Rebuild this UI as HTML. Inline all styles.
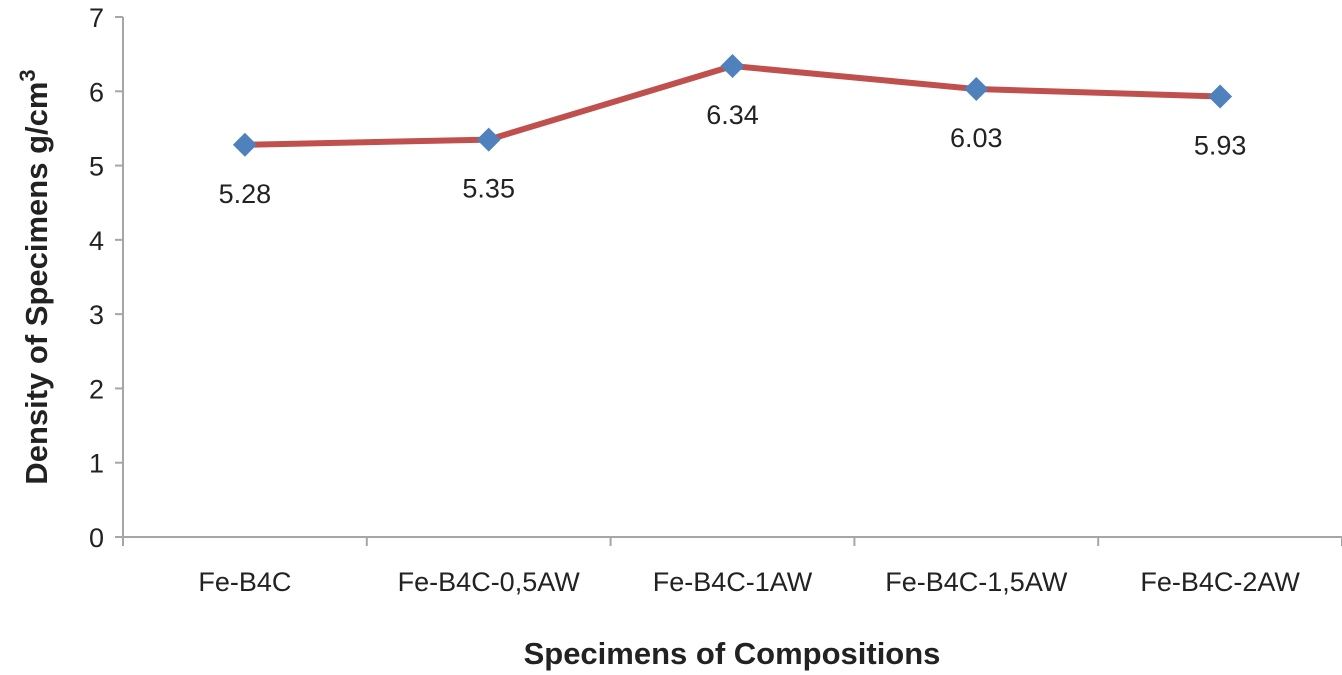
<!DOCTYPE html>
<html><head><meta charset="utf-8"><style>
html,body{margin:0;padding:0;background:#fff;}
svg{display:block;font-family:"Liberation Sans",sans-serif;}
</style></head><body>
<svg id="chart" width="1342" height="675" viewBox="0 0 1342 675" xmlns="http://www.w3.org/2000/svg"></svg>
<script>
const categories = ["Fe-B4C","Fe-B4C-0,5AW","Fe-B4C-1AW","Fe-B4C-1,5AW","Fe-B4C-2AW"];
const densityValues = [5.28,5.35,6.34,6.03,5.93];
const valueLabels = ["5.28","5.35","6.34","6.03","5.93"];
const yTicks = [0,1,2,3,4,5,6,7];

const NS="http://www.w3.org/2000/svg";
const svg=document.getElementById('chart');
const x0=123, x1=1342, yTop=17, yBot=537, yMax=7;
const band=(x1-x0)/categories.length;
const xPos=i=>x0+band*(i+0.5);
const yPos=v=>yBot-(v/yMax)*(yBot-yTop);
function mk(tag,attrs,parent){const e=document.createElementNS(NS,tag);for(const k in attrs)e.setAttribute(k,attrs[k]);(parent||svg).appendChild(e);return e;}

const axisG=mk('g',{});


const ya=mk('line',{x1:x0,y1:yTop,x2:x0,y2:yBot,stroke:'#a6a6a6','stroke-width':2},axisG);


const xa=mk('line',{x1:x0,y1:yBot,x2:x1,y2:yBot,stroke:'#a6a6a6','stroke-width':2},axisG);



yTicks.forEach(t=>{
  const y=yPos(t);
  const tk=mk('line',{x1:x0-8,y1:y,x2:x0,y2:y,stroke:'#a6a6a6','stroke-width':2},axisG);
  
  
  const tl=mk('text',{x:x0-19,y:y+10,'text-anchor':'end','font-size':27,fill:'#222'},axisG);
  tl.textContent=t;
  
  
});
for(let i=0;i<=categories.length;i++){
  const x=x0+band*i;
  const tk=mk('line',{x1:x,y1:yBot,x2:x,y2:yBot+9,stroke:'#a6a6a6','stroke-width':2},axisG);
  
  
}
categories.forEach((c,i)=>{
  const tl=mk('text',{x:xPos(i),y:591,'text-anchor':'middle','font-size':27,fill:'#222'},axisG);
  tl.textContent=c;
  
  
});

const pts=densityValues.map((v,i)=>xPos(i)+','+yPos(v)).join(' ');
const line=mk('polyline',{points:pts,fill:'none',stroke:'#c0504d','stroke-width':6,'stroke-linejoin':'round'});



densityValues.forEach((v,i)=>{
  const x=xPos(i), y=yPos(v), r=12;
  const m=mk('polygon',{points:`${x},${y-r} ${x+r},${y} ${x},${y+r} ${x-r},${y}`,fill:'#4f81bd'});
  
  
  const l=mk('text',{x:x,y:y+58,'text-anchor':'middle','font-size':27,fill:'#222'});
  l.textContent=valueLabels[i];
  
  
});

const xt=mk('text',{x:732,y:664,'text-anchor':'middle','font-size':31,'font-weight':'bold',fill:'#222'});
xt.textContent='Specimens of Compositions';



const yt=mk('text',{x:0,y:0,'text-anchor':'middle','font-size':31,'font-weight':'bold',fill:'#222',transform:'translate(47,277) rotate(-90)'});


yt.appendChild(document.createTextNode('Density of Specimens g/cm'));
const sup=mk('tspan',{'font-size':22,dy:-12},yt);
sup.textContent='3';
</script>
</body></html>
